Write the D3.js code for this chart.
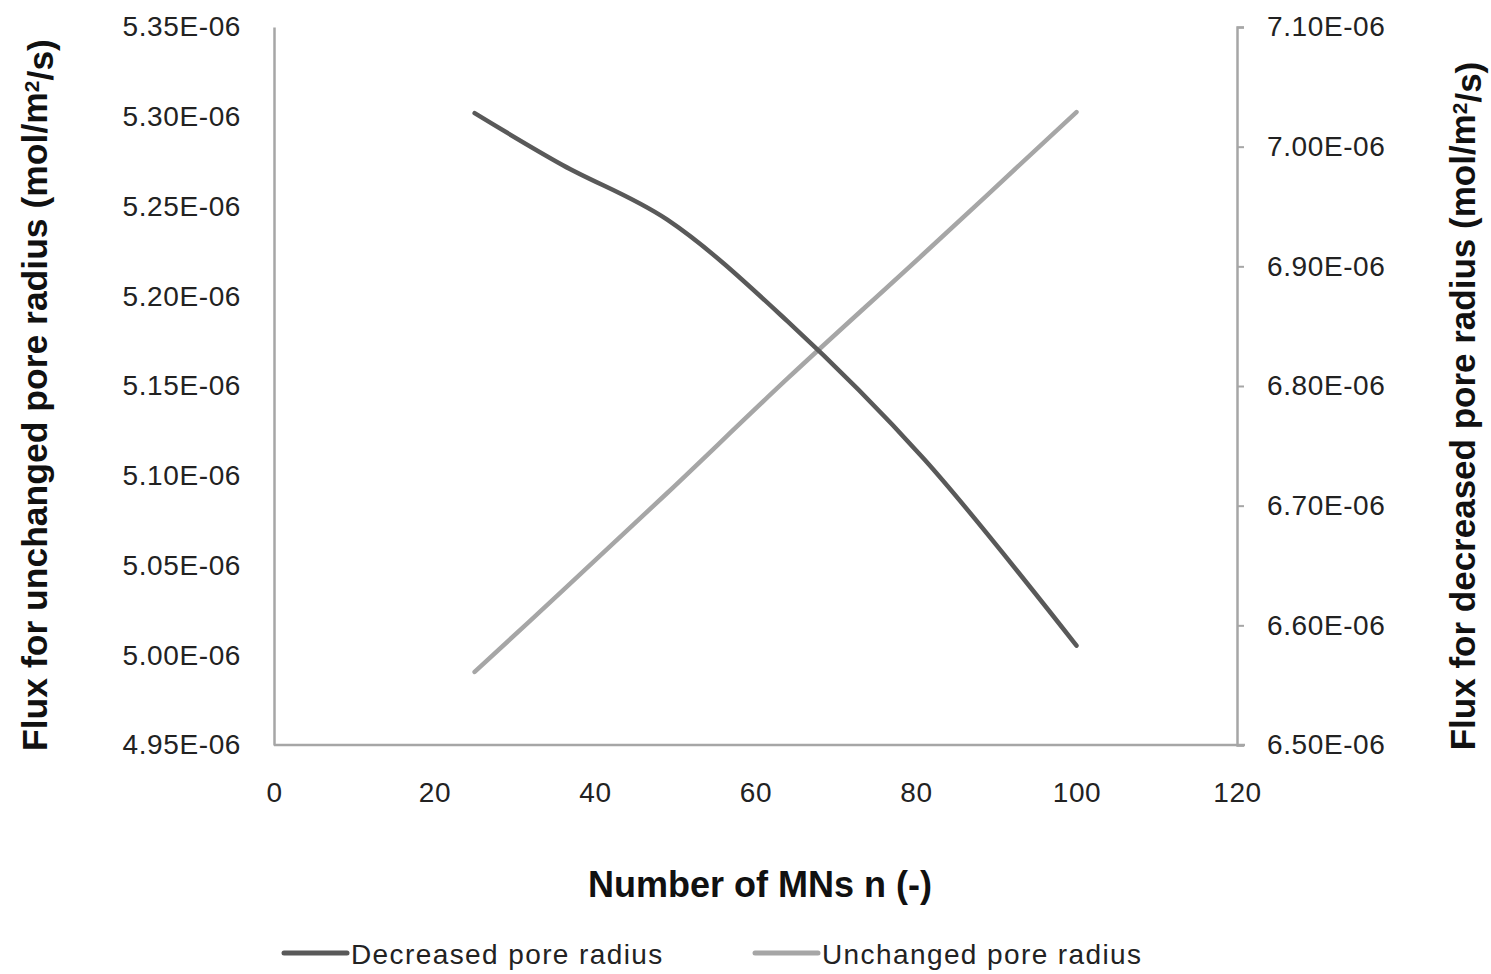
<!DOCTYPE html>
<html>
<head>
<meta charset="utf-8">
<script src="https://cdn.jsdelivr.net/npm/d3@7"></script>
<style>
  body { margin: 0; background: #fff; }
  svg { display: block; font-family: "Liberation Sans", Arial, sans-serif; }
</style>
</head>
<body>
<svg id="chart" width="1491" height="974"></svg>
<script>
// Data
const nValues = [25, 36, 49, 64, 81, 100];
const decreasedFlux = [7.028e-6, 6.9845e-6, 6.939e-6, 6.854e-6, 6.739e-6, 6.583e-6]; // right axis
const unchangedFlux = [4.9907e-6, 5.0361e-6, 5.0904e-6, 5.1542e-6, 5.2238e-6, 5.3026e-6]; // left axis
const xTicks = [0, 20, 40, 60, 80, 100, 120];
const leftTicks = [4.95e-6, 5.00e-6, 5.05e-6, 5.10e-6, 5.15e-6, 5.20e-6, 5.25e-6, 5.30e-6, 5.35e-6];
const rightTicks = [6.50e-6, 6.60e-6, 6.70e-6, 6.80e-6, 6.90e-6, 7.00e-6, 7.10e-6];
const seriesNames = ["Decreased pore radius", "Unchanged pore radius"];

const svg = d3.select("#chart");
const L = 274, R = 1237, T = 27, B = 745;
const axisColor = "#a6a6a6";

const x = d3.scaleLinear().domain([0, 120]).range([L, R]);
const yL = d3.scaleLinear().domain([4.95e-6, 5.35e-6]).range([B, T]);
const yR = d3.scaleLinear().domain([6.50e-6, 7.10e-6]).range([B, T]);

const fmt = v => {
  const s = v.toExponential(2).toUpperCase(); // e.g. 5.35E-6
  return s.replace(/E([+-])(\d)$/, "E$10$2");
};

// Left axis
const gL = svg.append("g").attr("transform", `translate(${L},0)`)
  .call(d3.axisLeft(yL).tickValues(leftTicks).tickSize(0).tickPadding(33).tickFormat(fmt));
// Right axis
const gR = svg.append("g").attr("transform", `translate(${R},0)`)
  .call(d3.axisRight(yR).tickValues(rightTicks).tickSize(7).tickPadding(23).tickFormat(fmt));
// Bottom axis
const gX = svg.append("g").attr("transform", `translate(0,${B})`)
  .call(d3.axisBottom(x).tickValues(xTicks).tickSize(0).tickPadding(37).tickFormat(d3.format("d")));

[gL, gR, gX].forEach(g => {
  g.select(".domain").attr("stroke", axisColor).attr("stroke-width", 2.5);
  g.selectAll(".tick line").attr("stroke", axisColor).attr("stroke-width", 2);
  g.selectAll(".tick text").attr("fill", "#222").style("font-size", "28px")
    .style("letter-spacing", "0.6px").attr("font-family", "Liberation Sans, Arial, sans-serif");
});
gX.select(".domain").attr("d", `M${L},0H${R + 8}`);

// Lines
const line = yScale => d3.line()
  .x((d, i) => x(nValues[i]))
  .y(d => yScale(d))
  .curve(d3.curveCatmullRom.alpha(0.5));

svg.append("path").datum(unchangedFlux)
  .attr("d", line(yL))
  .attr("fill", "none").attr("stroke", "#a6a6a6").attr("stroke-width", 4.5)
  .attr("stroke-linecap", "round");
svg.append("path").datum(decreasedFlux)
  .attr("d", line(yR))
  .attr("fill", "none").attr("stroke", "#595959").attr("stroke-width", 4.5)
  .attr("stroke-linecap", "round");

// Axis titles
svg.append("text")
  .attr("x", 760).attr("y", 897)
  .attr("text-anchor", "middle")
  .style("font-size", "36px").style("font-weight", "bold").attr("fill", "#111")
  .text("Number of MNs n (-)");

function yTitle(cx, cy, label, size) {
  const t = svg.append("text")
    .attr("transform", `translate(${cx},${cy}) rotate(-90)`)
    .attr("text-anchor", "middle")
    .attr("dy", "0.35em")
    .style("font-size", size + "px").style("font-weight", "bold").attr("fill", "#111");
  t.append("tspan").text(label + " (mol/m");
  t.append("tspan").attr("dy", "-0.4em").style("font-size", "21px").text("2");
  t.append("tspan").attr("dy", "0.4em").text("/s)");
}
yTitle(35, 395, "Flux for unchanged pore radius", 35.5);
yTitle(1463, 406, "Flux for decreased pore radius", 35);

// Legend
const legend = [
  { name: seriesNames[0], color: "#595959", x1: 284, x2: 347 },
  { name: seriesNames[1], color: "#a6a6a6", x1: 755, x2: 818 }
];
legend.forEach(d => {
  svg.append("line").attr("x1", d.x1).attr("x2", d.x2).attr("y1", 953).attr("y2", 953)
    .attr("stroke", d.color).attr("stroke-width", 5).attr("stroke-linecap", "round");
  svg.append("text").attr("x", d.x2 + 4).attr("y", 964)
    .style("font-size", "28px").style("letter-spacing", "1.4px").attr("fill", "#222")
    .text(d.name);
});
</script>
</body>
</html>
